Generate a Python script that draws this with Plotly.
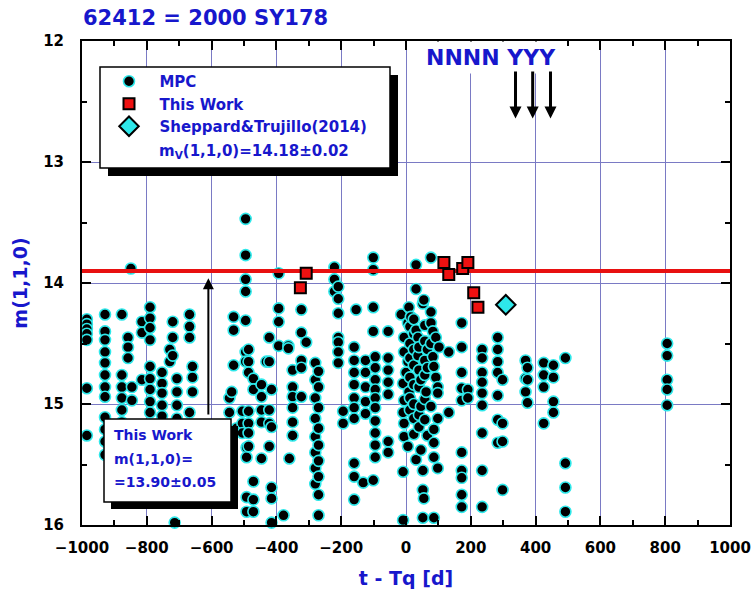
import plotly.graph_objects as go

# ---------------- data ----------------
title_text = "62412 = 2000 SY178"
t_range = [-1000, 1000]
m_range = [16, 12]          # magnitude axis runs downward

# fitted absolute magnitude from this work
m_fit = 13.90
m_fit_err = 0.05

# Sheppard & Trujillo (2014) value
t_sheppard = [308]
m_sheppard = [14.18]
m_sheppard_err = 0.02

# this work
this_work_t = [-326, -308, 117, 132, 175, 191, 209, 222]
this_work_m = [14.04, 13.92, 13.83, 13.93, 13.88, 13.83, 14.08, 14.20]

# MPC observations, grouped as (t - Tq, [m(1,1,0), ...])
mpc_west = [
    (-985, [14.30, 14.34, 14.38, 14.42, 14.47, 14.87, 15.26]),
    (-929, [14.26, 14.40, 14.47, 14.57, 14.66, 14.76, 14.86, 14.94, 15.11, 15.21, 15.31, 15.42]),
    (-877, [14.26, 14.76, 14.86, 14.95, 15.05, 15.15]),
    (-858, [14.45, 14.53, 14.62]),
    (-849, [13.88]),
    (-846, [14.86, 14.97]),
    (-815, [14.32, 14.41, 14.80]),
    (-790, [14.20, 14.29, 14.37, 14.47, 14.69, 14.79, 14.88, 14.98, 15.07]),
    (-753, [14.74, 14.83, 14.91, 15.01, 15.10]),
    (-729, [14.55, 14.65]),
    (-720, [14.32, 14.45, 14.60]),
    (-714, [15.98]),
    (-707, [14.79, 14.90, 15.01, 15.12]),
    (-668, [14.26, 14.36, 14.45, 15.07]),
    (-659, [14.69, 14.78, 14.90]),
]

mpc_middle = [
    (-545, [14.95, 15.07]),
    (-538, [14.90]),
    (-532, [14.28, 14.39, 14.68]),
    (-523, [15.20]),
    (-505, [15.06, 15.16, 15.24]),
    (-495, [13.47, 13.77, 13.97, 14.07, 14.31, 14.57, 14.65]),
    (-492, [15.36, 15.44, 15.77, 15.89]),
    (-486, [14.55, 14.65, 14.74, 15.06, 15.16, 15.24, 15.35]),
    (-471, [14.79, 14.88, 15.64, 15.79, 15.89]),
    (-446, [14.84, 14.94, 15.05, 15.15, 15.45]),
    (-431, [14.65]),
    (-422, [14.45, 14.65, 15.05, 15.16, 15.35]),
    (-415, [14.88, 15.19, 15.69, 15.78, 15.98]),
    (-393, [13.92, 14.21, 14.32, 14.52]),
    (-378, [15.92]),
    (-363, [14.52, 14.54]),
    (-360, [15.45]),
    (-350, [14.72, 14.86, 14.94, 15.03, 15.15, 15.26]),
    (-323, [14.22, 14.41, 14.64, 14.70, 14.94]),
    (-308, [14.49]),
    (-280, [14.66, 14.80, 14.95, 15.12, 15.27, 15.40, 15.53, 15.66]),
    (-270, [14.73, 14.86, 15.03, 15.20, 15.34, 15.47, 15.60, 15.75, 15.92]),
    (-221, [13.87, 13.97, 14.07]),
    (-209, [14.03, 14.13, 14.25, 14.45, 14.49, 14.57, 14.66]),
    (-194, [15.06, 15.16]),
    (-160, [14.53, 14.64, 14.74, 14.84, 14.95, 15.03, 15.12, 15.49, 15.60, 15.79]),
    (-154, [14.22]),
    (-132, [15.65]),
    (-125, [14.64, 14.74, 14.86, 14.98, 15.08]),
    (-101, [13.79, 13.89, 14.20, 14.40, 15.63]),
    (-95, [14.61, 14.70, 14.80, 14.88, 14.95, 15.03, 15.14, 15.24, 15.34, 15.44]),
    (-55, [14.40, 14.62, 14.72, 14.82, 14.92, 15.31, 15.40]),
]

mpc_center = [
    (-15, [14.26]),
    (-9, [14.83, 15.07, 15.56, 15.96]),
    (-6, [14.45, 14.57, 14.97, 15.16, 15.27]),
    (0, [14.74]),
    (6, [14.33, 14.65, 15.35]),
    (9, [14.20, 14.90]),
    (12, [14.36, 14.50, 14.62, 14.78, 14.95, 15.05]),
    (15, [14.28]),
    (24, [14.30, 14.42, 14.55, 14.68, 14.84, 15.00, 15.12, 15.25]),
    (31, [13.85, 14.05, 14.39, 15.46]),
    (37, [14.45, 14.60]),
    (40, [14.53, 14.72, 14.86, 15.09, 15.19]),
    (46, [14.80, 15.02, 15.38]),
    (52, [14.17, 15.55, 15.71, 15.94]),
    (55, [14.14, 15.78]),
    (58, [14.35, 14.48, 14.64, 14.76, 14.96, 15.13]),
    (62, [14.90]),
    (66, [14.55, 14.70, 15.26]),
    (77, [13.79, 14.24, 14.33, 14.50, 15.02]),
    (83, [14.40, 14.61]),
    (86, [14.69, 15.21, 15.32, 15.44, 15.94]),
    (92, [14.45, 14.78]),
    (98, [14.86, 14.91, 15.12, 15.53]),
    (102, [14.53]),
]

mpc_east = [
    (132, [14.57, 15.07]),
    (172, [14.33, 14.53, 14.74, 14.87, 14.97, 15.40, 15.55, 15.61, 15.75, 15.85]),
    (191, [14.88, 14.95]),
    (235, [14.55, 14.62, 14.74, 14.82, 14.91, 15.01, 15.24, 15.55, 15.85]),
    (283, [14.45, 14.55, 14.65, 14.74, 14.93, 15.13, 15.32]),
    (298, [14.80, 15.16, 15.31, 15.71]),
    (369, [14.64, 14.79, 14.90]),
    (375, [14.70, 14.80, 14.99]),
    (425, [14.66, 14.76, 14.86, 15.16]),
    (455, [14.68, 14.78, 14.98, 15.07]),
    (492, [14.62, 15.49, 15.69, 15.89]),
    (806, [14.50, 14.60, 14.80, 14.88, 15.01]),
]

epoch_flags = "NNNN YYY"
flag_arrow_t = [338, 391, 446]
flag_arrow_m = (12.24, 12.64)      # tail, head
fit_pointer_t = -610
fit_pointer_m = (15.10, 13.96)     # tail, head

# ---------------- styling ----------------
BLUE = "#1717cc"
CYAN = "#2ee8ea"
GRID = "#7a7ac4"
FONT = "DejaVu Sans"

W, H = 752, 597
ML, MR, MT, MB = 82, 22, 41, 72
PW, PH = W - ML - MR, H - MT - MB


def px(x):
    return (x - ML) / PW


def py(y):
    return (H - MB - y) / PH


def expand(groups):
    ts, ms = [], []
    for t, mags in groups:
        for m in mags:
            ts.append(t)
            ms.append(m)
    return ts, ms


mpc_t, mpc_m = [], []
for grp in (mpc_west, mpc_middle, mpc_center, mpc_east):
    a, b = expand(grp)
    mpc_t += a
    mpc_m += b

nb = "\u00a0" * 2

fig = go.Figure()

fig.add_trace(go.Scatter(
    x=mpc_t, y=mpc_m, mode="markers", name=nb + "MPC",
    marker=dict(symbol="circle", size=11, color="black",
                line=dict(color=CYAN, width=1.6)),
    cliponaxis=False,
))

fig.add_trace(go.Scatter(
    x=t_range, y=[m_fit, m_fit], mode="lines", showlegend=False,
    line=dict(color="#e81010", width=4), hoverinfo="skip",
))

fig.add_trace(go.Scatter(
    x=this_work_t, y=this_work_m, mode="markers", name=nb + "This Work",
    marker=dict(symbol="square", size=11, color="#ee1111",
                line=dict(color="black", width=2)),
))

fig.add_trace(go.Scatter(
    x=t_sheppard, y=m_sheppard, mode="markers",
    name=nb + "Sheppard&Trujillo(2014)",
    marker=dict(symbol="diamond", size=15, color=CYAN,
                line=dict(color="black", width=2)),
))

shapes = []


def shadow_box(x0, y0, x1, y1, off):
    shapes.append(dict(type="rect", xref="paper", yref="paper", layer="above",
                       x0=px(x0 + off), x1=px(x1 + off), y0=py(y0 + off), y1=py(y1 + off),
                       fillcolor="black", line=dict(width=0)))
    shapes.append(dict(type="rect", xref="paper", yref="paper", layer="above",
                       x0=px(x0), x1=px(x1), y0=py(y0), y1=py(y1),
                       fillcolor="white", line=dict(color="black", width=1.5)))


shadow_box(100, 67, 390, 168, 8)
shadow_box(104, 419, 231, 502, 7)

annotations = []

annotations.append(dict(
    xref="paper", yref="paper", x=px(157), y=py(151), xanchor="left", yanchor="middle",
    text="m<sub>V</sub>(1,1,0)=%.2f\u00b1%.2f" % (m_sheppard[0], m_sheppard_err),
    showarrow=False, font=dict(family=FONT, size=15, color=BLUE, weight="bold"),
))

for txt, yy in (("This Work", 435), ("m(1,1,0)=", 459),
                ("=%.2f\u00b1%.2f" % (m_fit, m_fit_err), 482)):
    annotations.append(dict(
        xref="paper", yref="paper", x=px(112), y=py(yy), xanchor="left", yanchor="middle",
        text=txt, showarrow=False,
        font=dict(family=FONT, size=14, color=BLUE, weight="bold"),
    ))

annotations.append(dict(
    xref="paper", yref="paper", x=px(491), y=py(57), xanchor="center", yanchor="middle",
    text=epoch_flags, showarrow=False, bgcolor="white", borderpad=3,
    font=dict(family=FONT, size=22, color=BLUE, weight="bold"),
))

for t in flag_arrow_t:
    annotations.append(dict(
        xref="x", yref="y", axref="x", ayref="y",
        x=t, y=flag_arrow_m[1], ax=t, ay=flag_arrow_m[0],
        text="", showarrow=True, arrowhead=2, arrowsize=0.8, arrowwidth=3,
        arrowcolor="black", standoff=0, startstandoff=0,
    ))

annotations.append(dict(
    xref="x", yref="y", axref="x", ayref="y",
    x=fit_pointer_t, y=fit_pointer_m[1], ax=fit_pointer_t, ay=fit_pointer_m[0],
    text="", showarrow=True, arrowhead=2, arrowsize=1.1, arrowwidth=2,
    arrowcolor="black", standoff=0, startstandoff=0,
))

axis_common = dict(
    showline=True, linecolor="black", linewidth=2, mirror="ticks",
    ticks="inside", ticklen=9, tickwidth=2, tickcolor="black",
    showgrid=True, gridcolor=GRID, gridwidth=1, zeroline=False,
    automargin=False,
    tickfont=dict(family=FONT, size=15, color="black", weight="bold"),
)

fig.update_xaxes(
    range=t_range, tickmode="linear", tick0=-1000, dtick=200,
    minor=dict(dtick=100, ticks="inside", ticklen=5, tickwidth=2,
               tickcolor="black", showgrid=False),
    ticklabelstandoff=8,
    title=dict(text="t - Tq [d]", standoff=16,
               font=dict(family=FONT, size=19, color=BLUE, weight="bold")),
    **axis_common,
)
fig.update_yaxes(
    range=m_range, tickmode="linear", tick0=12, dtick=1,
    minor=dict(dtick=0.5, ticks="inside", ticklen=5, tickwidth=2,
               tickcolor="black", showgrid=False),
    ticklabelstandoff=13,
    title=dict(text="m(1,1,0)", standoff=10,
               font=dict(family=FONT, size=19, color=BLUE, weight="bold")),
    **axis_common,
)

fig.update_layout(
    width=W, height=H,
    margin=dict(l=ML, r=MR, t=MT, b=MB, autoexpand=False),
    paper_bgcolor="white", plot_bgcolor="white",
    title=dict(text=title_text, x=83 / W, xanchor="left", y=1 - 18 / H, yanchor="middle",
               font=dict(family=FONT, size=21, color=BLUE, weight="bold")),
    showlegend=True,
    legend=dict(x=px(109), y=py(65), xanchor="left", yanchor="top",
                bgcolor="rgba(0,0,0,0)", borderwidth=0,
                font=dict(family=FONT, size=15, color=BLUE, weight="bold")),
    shapes=shapes,
    annotations=annotations,
)

fig.write_html("out.html")
